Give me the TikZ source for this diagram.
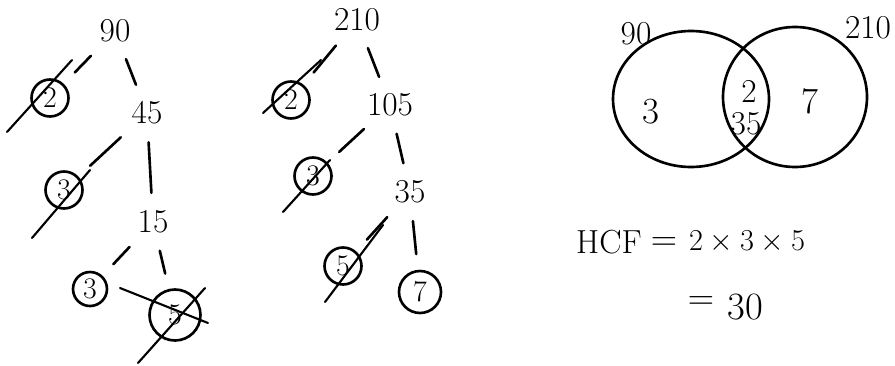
\documentclass[tikz,border=0pt]{standalone}
\usetikzlibrary{calc,positioning}
\tikzset{
  num/.style={
    font = \fontsize{19}{22}\selectfont,
    inner sep = 1pt
  },
  ring/.style={
    shape = circle,
    draw,
    line width = 1.5pt,
    minimum size = 0.74cm,
    inner sep = 0pt,
    font = \fontsize{17}{19}\selectfont
  },
  branch/.style={
    line width = 1.5pt,
    line cap = round,
    shorten <= 9pt,
    shorten >= 9pt
  },
  slash/.style={
    line width = 1.2pt,
    line cap = round
  },
  venn/.style={
    line width = 1.5pt
  },
  big/.style={
    font = \fontsize{20}{24}\selectfont,
    inner sep = 1pt
  }
}

\begin{document}
\begin{tikzpicture}[x=0.02cm, y=-0.02cm]
    \useasboundingbox (0,0) rectangle (895,365);

    % factor tree of 90
    \node[num] (n90) at (115,31) {90};
    \node[ring] (f2) at (50,98) {2};
    \node[num] (n45) at (147,113) {45};
    \node[ring] (f3) at (64,190) {3};
    \node[num] (n15) at (153,222) {15};
    \node[ring, minimum size=0.68cm] (f3b) at (90,289) {3};
    \node[ring, minimum size=1.02cm] (f5) at (175,315) {5};

    \draw[branch] (n90) -- (f2);
    \draw[branch] (n90) -- (n45);
    \draw[branch] (n45) -- (f3);
    \draw[branch] (n45) -- (n15);
    \draw[branch] (n15) -- (f3b);
    \draw[branch] (n15) -- (f5);

    \draw[slash] ($(f2)+(-43,34)$) -- ($(f2)+(22,-38)$);
    \draw[slash] ($(f3)+(-32,48)$) -- ($(f3)+(26,-20)$);
    \draw[slash] ($(f5)+(-37,48)$) -- ($(f5)+(30,-27)$);
    \draw[slash] ($(f5)+(-55,-27)$) -- ($(f5)+(33,8)$);

    % factor tree of 210
    \node[num] (m210) at (357,20) {210};
    \node[ring] (g2) at (291,100) {2};
    \node[num] (m105) at (390,105) {105};
    \node[ring] (g3) at (313,176) {3};
    \node[num] (m35) at (410,192) {35};
    \node[ring] (g5) at (343,266) {5};
    \node[ring, minimum size=0.84cm] (g7) at (420,292) {7};

    \draw[branch] (m210) -- (g2);
    \draw[branch] (m210) -- (m105);
    \draw[branch] (m105) -- (g3);
    \draw[branch] (m105) -- (m35);
    \draw[branch] (m35) -- (g5);
    \draw[branch] (m35) -- (g7);

    \draw[slash] ($(g2)+(-28,13)$) -- ($(g2)+(30,-40)$);
    \draw[slash] ($(g3)+(-30,36)$) -- ($(g3)+(17,-16)$);
    \draw[slash] ($(g5)+(-18,36)$) -- ($(g5)+(40,-41)$);

    % venn diagram
    \draw[venn] (691,99) ellipse [x radius=78, y radius=68];
    \draw[venn] (795,97) ellipse [x radius=72, y radius=70];
    \node[num] (v90) at (636,34) {90};
    \node[num] (v210) at (868,28) {210};
    \node[num, font=\fontsize{21}{24}\selectfont] (v3) at (651,112) {3};
    \node[num] (v2) at (749,91) {2};
    \node[num] (v35) at (746,124) {35};
    \node[num, font=\fontsize{21}{24}\selectfont] (v7) at (810,101) {7};

    % hcf
    \node[big, font=\fontsize{19}{22}\selectfont] (hcf) at (609,242) {HCF};
    \node[big] (eqA) at (664,244) {$=$};
    \node[big, font=\fontsize{18}{22}\selectfont] (prod) at (747,242) {$2\times3\times5$};
    \node[big] (eqB) at (701,303) {$=$};
    \node[big, font=\fontsize{22}{26}\selectfont] (res) at (745,307) {30};
\end{tikzpicture}
\end{document}
